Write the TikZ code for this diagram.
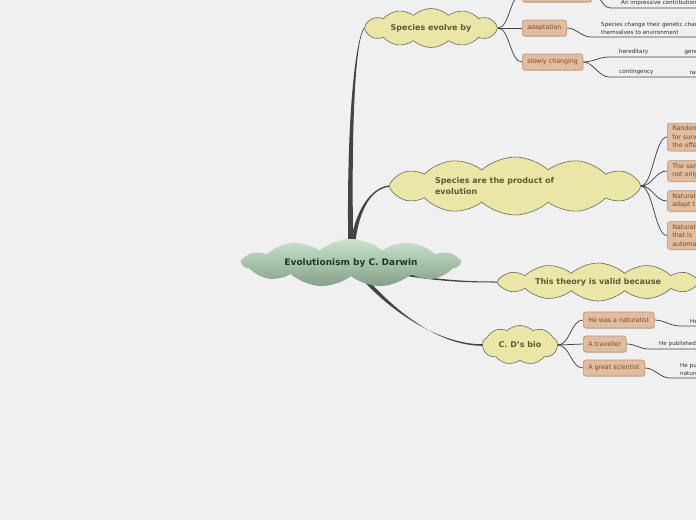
\documentclass[tikz,border=0pt]{standalone}
\usepackage{fontspec}
\setmainfont{DejaVu Sans}
\usetikzlibrary{shapes.symbols,shadows,positioning}
\definecolor{paper}{RGB}{240,240,240}
\definecolor{cloudyellow}{RGB}{234,230,166}
\definecolor{cloudedge}{RGB}{105,105,92}
\definecolor{cloudink}{RGB}{92,90,58}
\definecolor{roottop}{RGB}{200,228,204}
\definecolor{rootbottom}{RGB}{134,160,138}
\definecolor{rootink}{RGB}{30,58,34}
\definecolor{boxtan}{RGB}{226,188,156}
\definecolor{boxedge}{RGB}{184,148,116}
\definecolor{boxink}{RGB}{110,76,52}
\definecolor{branchgray}{RGB}{68,68,68}
\definecolor{leafink}{RGB}{45,45,45}

\pgfdeclarelayer{edges}
\pgfsetlayers{edges,main}

\tikzset{
  topic/.style={cloud, cloud puffs=12, cloud puff arc=85, cloud ignores aspect,
    fill=cloudyellow, draw=cloudedge, line width=0.6pt, text=cloudink,
    font=\fontsize{8}{10.5}\selectfont\bfseries, inner sep=0pt},
  subtopic/.style={anchor=west, rounded corners=2.5pt, fill=boxtan, draw=boxedge,
    line width=0.6pt, text=boxink, font=\fontsize{6.3}{8.5}\selectfont,
    inner xsep=5pt, inner ysep=0pt, minimum height=16pt, align=left,
    drop shadow={shadow xshift=0.8pt, shadow yshift=-0.9pt, opacity=0.3}},
  tallbox/.style={subtopic, inner ysep=3pt, text width=80pt},
  leaf/.style={anchor=south west, text=leafink, font=\fontsize{5.6}{7.8}\selectfont,
    inner xsep=10pt, inner ysep=2pt, align=left},
  trunk/.style={fill=branchgray},
  twig/.style={draw=branchgray, line width=0.75pt},
}

\begin{document}
\begin{tikzpicture}[x=1pt,y=-1pt]
\useasboundingbox (0,0) rectangle (696,520);
\clip (0,0) rectangle (696,520);

% main topic and its four branches
\node[cloud, cloud puffs=11, cloud puff arc=80, cloud ignores aspect, inner sep=0pt,
  minimum width=217pt, minimum height=48pt, top color=roottop, bottom color=rootbottom,
  text=rootink, font=\fontsize{9}{11}\selectfont\bfseries] (root) at (351,263) {Evolutionism by C. Darwin};

\node[topic, minimum width=133pt, minimum height=39pt] (evolve) at (431,28) {Species evolve by};
\node[topic, minimum width=251pt, minimum height=58pt, text width=160pt, align=left] (product) at (515,186) {Species are the product of\\evolution};
\node[topic, minimum width=201pt, minimum height=38pt] (theory) at (598,282) {This theory is valid because};
\node[topic, cloud puffs=9, minimum width=75pt, minimum height=39pt] (bio) at (520,345) {C. D's bio};

% Species evolve by
\node[subtopic, minimum width=69pt] (upper) at (522,-6) {};
\node[subtopic] (adapt) at (522,28) {adaptation};
\node[subtopic] (slow) at (522,62) {slowly changing};
\node[leaf, text width=110pt] (impressive) at (611,8) {An impressive contribution};
\node[leaf, text width=110pt] (genetic) at (591,37) {Species change their genetic char\\themselves to environment};
\node[leaf, text width=52pt] (hereditary) at (609,57) {hereditary};
\node[leaf, inner xsep=3pt, text width=30pt] (genes) at (hereditary.south east) {genes};
\node[leaf, text width=57pt] (contingency) at (609,77) {contingency};
\node[leaf, inner xsep=3pt, text width=30pt] (chance) at (contingency.south east) {random};

% Species are the product of evolution
\node[tallbox] (randomvar) at (667,137) {Random v\\for surv\\the offs};
\node[tallbox] (same) at (667,171) {The same\\not only};
\node[tallbox] (natadapt) at (667,201) {Natural\\adapt t};
\node[tallbox] (natauto) at (667,235.5) {Natural\\that is\\automat};

% C. D's bio
\node[subtopic] (naturalist) at (583,320) {He was a naturalist};
\node[subtopic] (traveller) at (583,344) {A traveller};
\node[subtopic] (scientist) at (583,368) {A great scientist};
\node[leaf, text width=60pt] (hewas) at (680,326) {He};
\node[leaf, text width=80pt] (published) at (649,349) {He published};
\node[leaf, text width=60pt] (pubnature) at (670,378) {He pub\\nature};

\begin{pgfonlayer}{edges}
\fill[paper] (0,0) rectangle (696,520);
\clip (0,0) rectangle (696,520);
\fill[trunk] ([xshift=-2.5pt]root.center) .. controls +(-3,-150) and +(-8,10) .. ([yshift=0.7pt]evolve.west)
  -- ([yshift=-0.7pt]evolve.west) .. controls +(-8,10) and +(-3,-150) .. ([xshift=2.5pt]root.center) -- cycle;
\fill[trunk] ([xshift=-2.5pt]root.center) .. controls +(2,-45) and +(-22,3) .. ([yshift=0.7pt]product.west)
  -- ([yshift=-0.7pt]product.west) .. controls +(-22,3) and +(2,-45) .. ([xshift=2.5pt]root.center) -- cycle;
\fill[trunk] ([yshift=1.1pt]root.center) .. controls +(70,18) and +(-35,0) .. ([yshift=0.5pt]theory.west)
  -- ([yshift=-0.5pt]theory.west) .. controls +(-35,0) and +(70,18) .. ([yshift=-1.1pt]root.center) -- cycle;
\fill[trunk] ([xshift=-3pt]root.center) .. controls +(35,45) and +(-45,0) .. ([yshift=0.8pt]bio.west)
  -- ([yshift=-0.8pt]bio.west) .. controls +(-45,0) and +(35,45) .. ([xshift=3pt]root.center) -- cycle;

\foreach \b in {upper,adapt,slow}
  \draw[twig] (evolve.east) .. controls +(12,0) and +(-12,0) .. (\b.west);
\foreach \b in {randomvar,same,natadapt,natauto}
  \draw[twig] (product.east) .. controls +(12,0) and +(-12,0) .. (\b.west);
\foreach \b in {naturalist,traveller,scientist}
  \draw[twig] (bio.east) .. controls +(12,0) and +(-12,0) .. (\b.west);

\draw[twig] (upper.east) .. controls +(10,0) and +(-10,0) .. (impressive.south west) -- (impressive.south east);
\draw[twig] (adapt.east) .. controls +(10,0) and +(-10,0) .. (genetic.south west) -- (genetic.south east);
\draw[twig] (slow.east) .. controls +(10,0) and +(-10,0) .. (hereditary.south west) -- (genes.south east);
\draw[twig] (slow.east) .. controls +(10,0) and +(-10,0) .. (contingency.south west) -- (chance.south east);
\draw[twig] (naturalist.east) .. controls +(10,0) and +(-10,0) .. (hewas.south west) -- (hewas.south east);
\draw[twig] (traveller.east) .. controls +(10,0) and +(-10,0) .. (published.south west) -- (published.south east);
\draw[twig] (scientist.east) .. controls +(10,0) and +(-10,0) .. (pubnature.south west) -- (pubnature.south east);
\end{pgfonlayer}
\end{tikzpicture}
\end{document}
